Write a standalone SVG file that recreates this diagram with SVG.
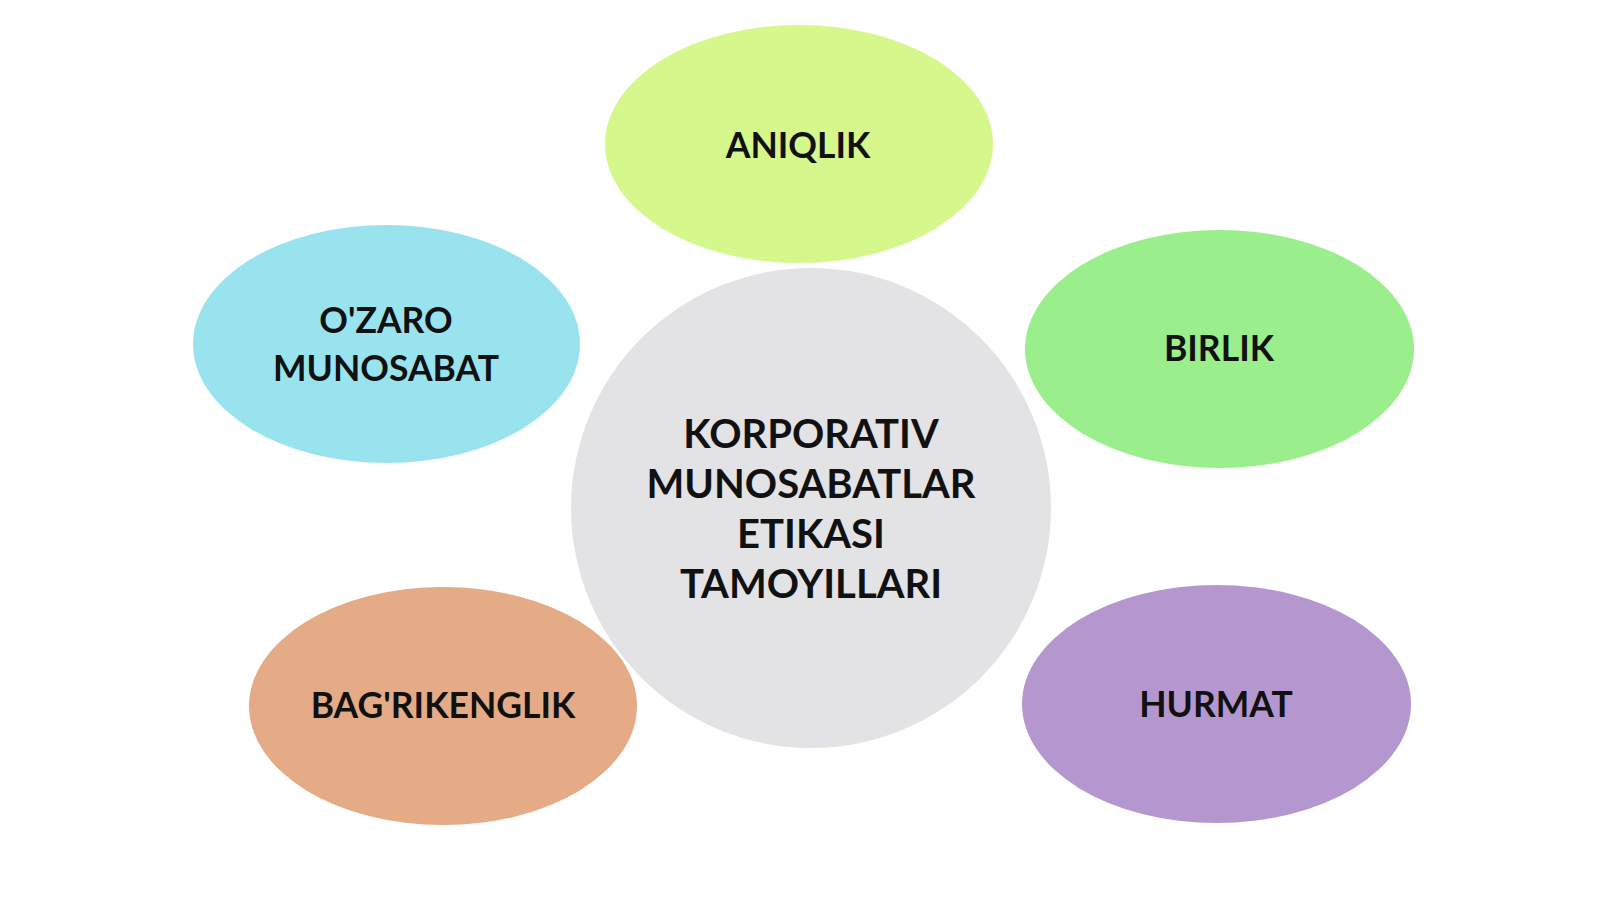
<svg xmlns="http://www.w3.org/2000/svg" width="1600" height="899" viewBox="0 0 1600 899">
  <style>
    .lbl { font-family: Lato, "Open Sans", "Liberation Sans", sans-serif; font-weight: bold; fill: #111111; text-anchor: middle; }
    .s { font-size: 35.5px; }
    .c { font-size: 40px; }
  </style>
  <rect width="1600" height="899" fill="#ffffff"/>
  <g id="connectors"></g>
  <g id="node-aniqlik">
    <ellipse cx="799" cy="144" rx="194" ry="119" fill="#d5f78b"/>
    <text class="lbl s" x="798" y="158">ANIQLIK</text>
  </g>
  <g id="node-ozaro">
    <ellipse cx="386.5" cy="344" rx="193.5" ry="119" fill="#98e3ee"/>
    <text class="lbl s" x="386" y="333">O'ZARO</text>
    <text class="lbl s" x="386" y="381">MUNOSABAT</text>
  </g>
  <g id="node-birlik">
    <ellipse cx="1219.5" cy="349" rx="194.5" ry="119" fill="#9bee8c"/>
    <text class="lbl s" x="1219" y="361">BIRLIK</text>
  </g>
  <g id="node-bagrikenglik">
    <ellipse cx="443" cy="706" rx="194" ry="119" fill="#e4ab86"/>
    <text class="lbl s" x="443" y="718">BAG'RIKENGLIK</text>
  </g>
  <g id="node-hurmat">
    <ellipse cx="1216.5" cy="704" rx="194.5" ry="119" fill="#b597d0"/>
    <text class="lbl s" x="1216" y="717">HURMAT</text>
  </g>
  <g id="node-center">
    <circle cx="811" cy="508" r="240" fill="#e3e3e5"/>
    <text class="lbl c" x="811" y="448">KORPORATIV</text>
    <text class="lbl c" x="811" y="498">MUNOSABATLAR</text>
    <text class="lbl c" x="811" y="548">ETIKASI</text>
    <text class="lbl c" x="811" y="598">TAMOYILLARI</text>
  </g>
</svg>
